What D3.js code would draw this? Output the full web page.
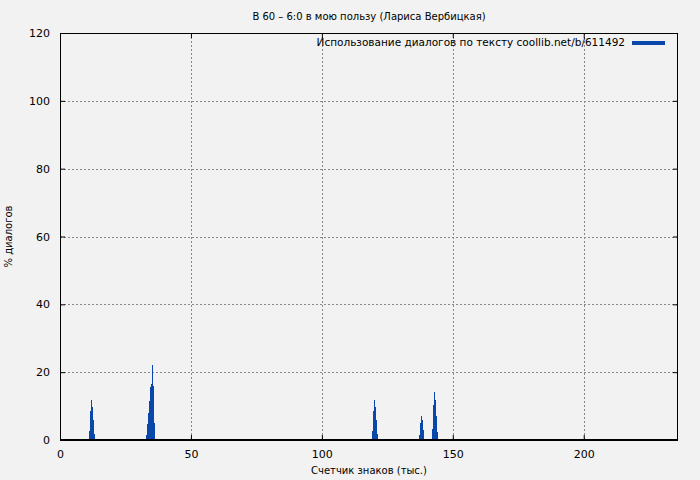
<!DOCTYPE html>
<html><head><meta charset="utf-8">
<script src="https://cdn.jsdelivr.net/npm/d3@7"></script>
<style>body{margin:0;background:#f2f2f2}svg{display:block}text{font-family:"DejaVu Sans",sans-serif;fill:#000}</style>
</head><body><svg id="c" width="700" height="480"></svg>
<script>
const title = "В 60 – 6:0 в мою пользу (Лариса Вербицкая)";
const legendLabel = "Использование диалогов по тексту coollib.net/b/611492";
const xLabel = "Счетчик знаков (тыс.)";
const yLabel = "% диалогов";
const xTicks = [0, 50, 100, 150, 200];
const yTicks = [0, 20, 40, 60, 80, 100, 120];
const binWidth = 0.382;
// bin start (thousand chars) and % of dialogue
const binStarts = [
  11.1, 11.5, 11.8, 12.2, 12.6, 13.0,
  32.8, 33.2, 33.6, 34.0, 34.4, 34.7, 35.1, 35.5, 35.9,
  119.1, 119.5, 119.8, 120.2, 120.6, 121.0,
  137.0, 137.4, 137.8, 138.2, 138.5,
  142.0, 142.4, 142.7, 143.1, 143.5, 143.9
];
const binValues = [
  2.7, 8.5, 11.8, 9.7, 5.9, 1.8,
  1.5, 4.7, 8.0, 11.5, 15.5, 16.5, 22.0, 16.0, 5.0,
  2.7, 8.5, 11.8, 9.7, 5.9, 1.8,
  1.5, 5.0, 7.0, 5.9, 3.0,
  3.2, 10.3, 14.1, 11.8, 7.0, 2.4
];

const svg = d3.select("#c");
const L = 60, R = 678, T = 33, B = 440;
const x = d3.scaleLinear().domain([0, 236]).range([L, R]);
const y = d3.scaleLinear().domain([0, 120]).range([B, T]);
const blue = "#0a47aa";

svg.append("rect").attr("width", 700).attr("height", 480).attr("fill", "#f2f2f2");

// grid
const g = svg.append("g");
g.selectAll("line.gx").data(xTicks.filter(d => d > 0)).join("line")
  .attr("x1", d => Math.round(x(d)) + 0.5).attr("x2", d => Math.round(x(d)) + 0.5)
  .attr("y1", T).attr("y2", B).attr("stroke", "#888").attr("stroke-dasharray", "2,2");
g.selectAll("line.gy").data(yTicks.filter(d => d > 0 && d < 120)).join("line")
  .attr("y1", d => Math.round(y(d)) + 0.5).attr("y2", d => Math.round(y(d)) + 0.5)
  .attr("x1", L).attr("x2", R).attr("stroke", "#888").attr("stroke-dasharray", "2,2");

// bars
svg.append("g").selectAll("rect").data(binStarts).join("rect")
  .attr("x", d => x(d)).attr("width", x(binWidth) - x(0))
  .attr("y", (d, i) => y(binValues[i])).attr("height", (d, i) => y(0) - y(binValues[i]))
  .attr("fill", blue).attr("shape-rendering", "crispEdges");

// axes (inward ticks, mirrored)
const ax = svg.append("g");
ax.append("g").attr("transform", `translate(0,${B})`)
  .call(d3.axisBottom(x).tickValues(xTicks).tickSize(-5).tickPadding(10))
  .call(s => s.select(".domain").remove());
ax.append("g").attr("transform", `translate(0,${T})`)
  .call(d3.axisTop(x).tickValues(xTicks).tickSize(-5).tickFormat(""))
  .call(s => s.select(".domain").remove());
ax.append("g").attr("transform", `translate(${L},0)`)
  .call(d3.axisLeft(y).tickValues(yTicks).tickSize(-5).tickPadding(10))
  .call(s => s.select(".domain").remove());
ax.append("g").attr("transform", `translate(${R},0)`)
  .call(d3.axisRight(y).tickValues(yTicks).tickSize(-5).tickFormat(""))
  .call(s => s.select(".domain").remove());
ax.selectAll(".tick text").attr("font-size", 11).attr("font-family", "DejaVu Sans, sans-serif");
ax.selectAll(".tick line").attr("stroke", "#000");

svg.append("rect").attr("x", L + 0.5).attr("y", T + 0.5).attr("width", R - L - 1).attr("height", B - T)
  .attr("fill", "none").attr("stroke", "#000");
svg.append("line").attr("x1", L).attr("x2", R).attr("y1", B).attr("y2", B).attr("stroke", "#000").attr("stroke-width", 2);

svg.append("text").attr("x", (L + R) / 2).attr("y", 20).attr("text-anchor", "middle").attr("font-size", 10).text(title);
svg.append("text").attr("x", 625).attr("y", 46).attr("text-anchor", "end").attr("font-size", 10.5).text(legendLabel);
svg.append("line").attr("x1", 632).attr("x2", 665).attr("y1", 43).attr("y2", 43).attr("stroke", blue).attr("stroke-width", 4);
svg.append("text").attr("x", (L + R) / 2).attr("y", 474).attr("text-anchor", "middle").attr("font-size", 10).text(xLabel);
svg.append("text").attr("transform", `translate(12,${(T + B) / 2}) rotate(-90)`).attr("text-anchor", "middle").attr("font-size", 10).text(yLabel);
</script></body></html>
